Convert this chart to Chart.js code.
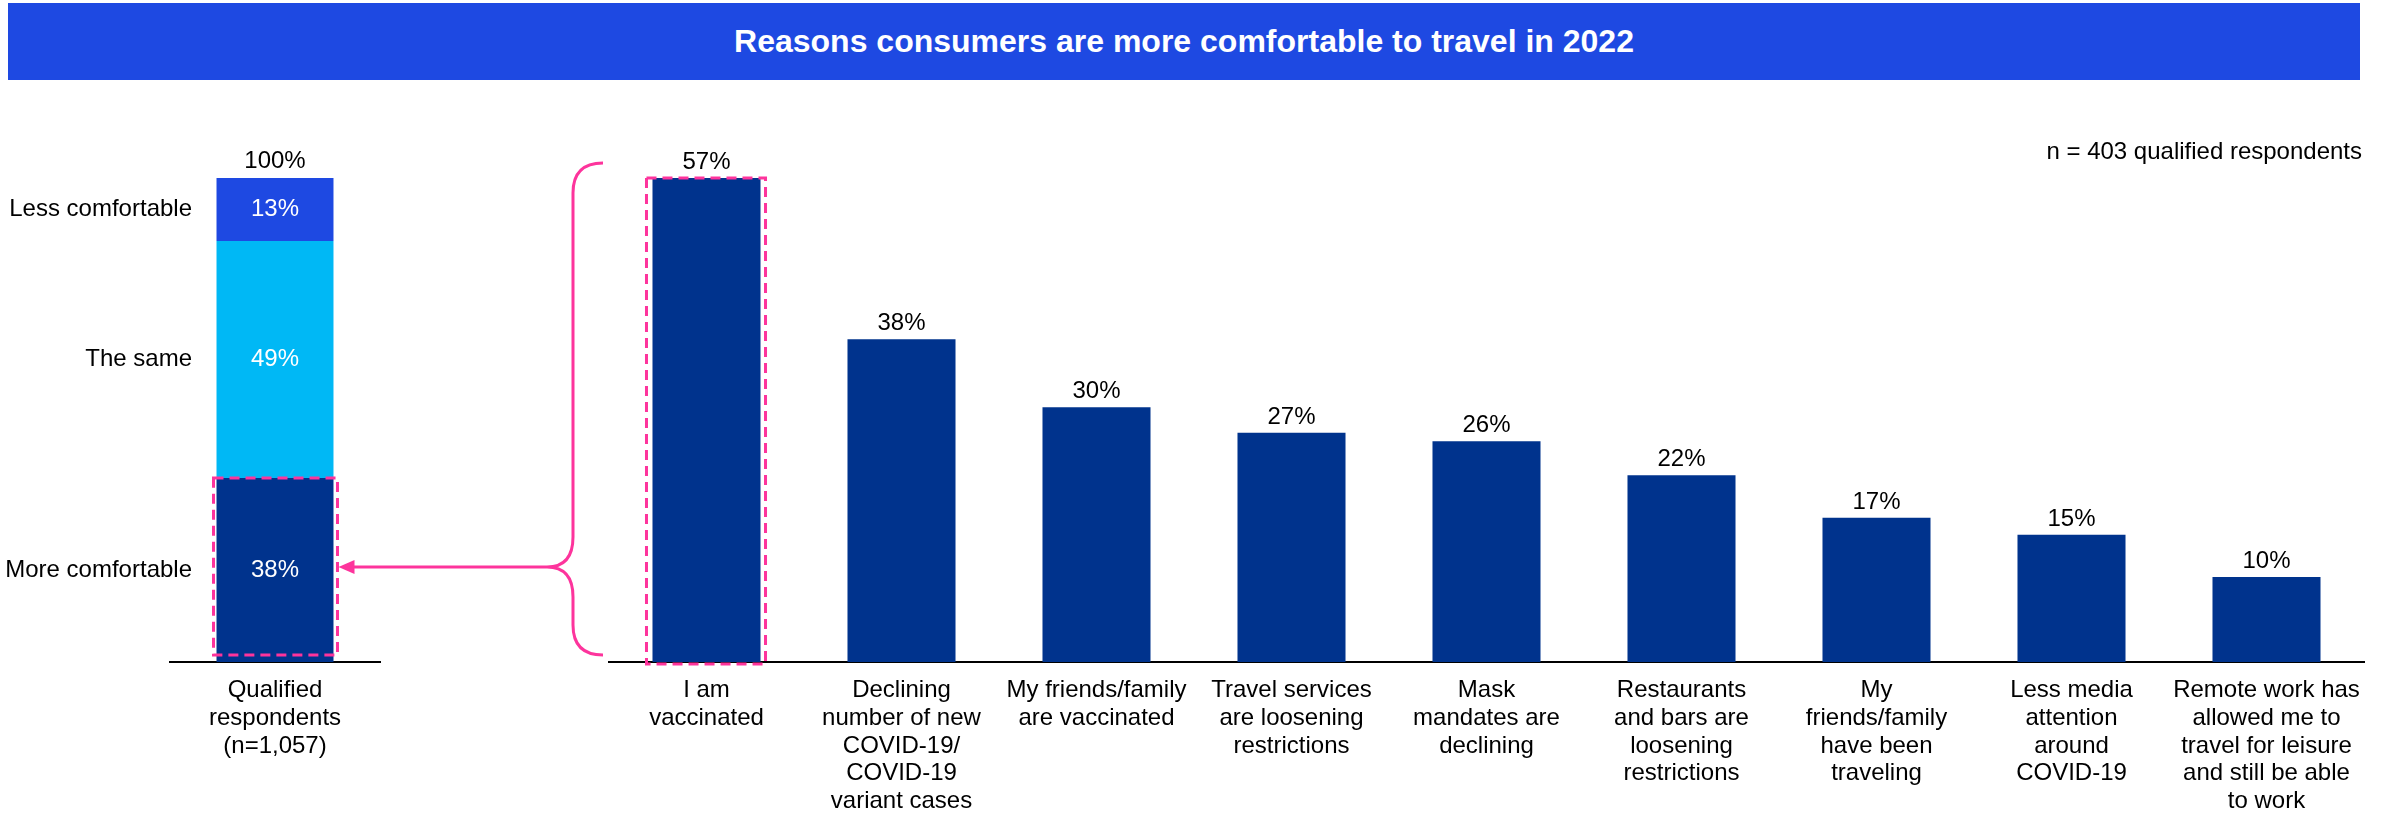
<!DOCTYPE html>
<html>
<head>
<meta charset="utf-8">
<script src="https://cdn.jsdelivr.net/npm/chart.js@4.4.0/dist/chart.umd.min.js"></script>
<style>
    html, body { margin: 0; padding: 0; background: #fff; }
    #page { position: relative; width: 2385px; height: 813px; overflow: hidden; }
    #titleBar {
        position: absolute; left: 8px; top: 3px; width: 2352px; height: 77px;
        background: #1E49E2; color: #fff; z-index: 5;
        font: bold 32px "Liberation Sans", Arial, sans-serif;
        display: flex; align-items: center; justify-content: center;
    }
    canvas { position: absolute; left: 0; top: 0; }
</style>
</head>
<body>
<div id="page">
    <div id="titleBar">Reasons consumers are more comfortable to travel in 2022</div>
    <canvas id="shareChart" width="2385" height="813"></canvas>
    <canvas id="reasonChart" width="2385" height="813"></canvas>
</div>
<script>
// left stacked bar: how comfortable vs. before
const shareCategory = [['Qualified', 'respondents', '(n=1,057)']];
const shareLabels = ['More comfortable', 'The same', 'Less comfortable'];
const shareValues = [38, 49, 13];
const shareTotal = '100%';

// right bar chart: reasons (among "more comfortable")
const reasonLabels = [
    ['I am', 'vaccinated'],
    ['Declining', 'number of new', 'COVID-19/', 'COVID-19', 'variant cases'],
    ['My friends/family', 'are vaccinated'],
    ['Travel services', 'are loosening', 'restrictions'],
    ['Mask', 'mandates are', 'declining'],
    ['Restaurants', 'and bars are', 'loosening', 'restrictions'],
    ['My', 'friends/family', 'have been', 'traveling'],
    ['Less media', 'attention', 'around', 'COVID-19'],
    ['Remote work has', 'allowed me to', 'travel for leisure', 'and still be able', 'to work']
];
const reasonValues = [57, 38, 30, 27, 26, 22, 17, 15, 10];
const sampleNote = 'n = 403 qualified respondents';

const NAVY = '#00338D';
const LIGHT = '#00B8F5';
const COBALT = '#1E49E2';
const PINK = '#FD349C';
const FONT = '"Liberation Sans", Arial, sans-serif';

Chart.defaults.font.family = FONT;
Chart.defaults.color = '#000';

// x axis shared settings: fixed height so both plot bottoms sit on the same line
function xAxis() {
    return {
        grid: { display: false, drawTicks: false },
        border: { display: true, color: '#000', width: 2 },
        ticks: { font: { size: 24, lineHeight: 1.15 }, color: '#000', padding: 15, maxRotation: 0, autoSkip: false },
        afterFit: function (scale) { scale.height = 151; }
    };
}

// labels for the stacked bar
const shareLabelPlugin = {
    id: 'shareLabels',
    afterDatasetsDraw(chart) {
        const ctx = chart.ctx;
        ctx.save();
        ctx.font = '24px ' + FONT;
        ctx.textBaseline = 'middle';
        let top = null;
        chart.data.datasets.forEach((ds, i) => {
            const el = chart.getDatasetMeta(i).data[0];
            const mid = (el.y + el.base) / 2;
            ctx.fillStyle = '#fff';
            ctx.textAlign = 'center';
            ctx.fillText(ds.data[0] + '%', el.x, mid);
            ctx.fillStyle = '#000';
            ctx.textAlign = 'right';
            ctx.fillText(ds.label, 192, mid);
            top = el;
        });
        ctx.textAlign = 'center';
        ctx.textBaseline = 'alphabetic';
        ctx.fillStyle = '#000';
        ctx.fillText(shareTotal, top.x, top.y - 10);
        ctx.restore();
    }
};

const shareChart = new Chart(document.getElementById('shareChart').getContext('2d'), {
    type: 'bar',
    data: {
        labels: shareCategory,
        datasets: shareLabels.map((label, i) => ({
            label: label,
            data: [shareValues[i]],
            backgroundColor: [NAVY, LIGHT, COBALT][i],
            borderWidth: 0,
            categoryPercentage: 1,
            barPercentage: 0.557
        }))
    },
    options: {
        responsive: false,
        animation: false,
        devicePixelRatio: 1,
        events: [],
        layout: { padding: { left: 170, right: 2005, top: 178, bottom: 0 } },
        plugins: { legend: { display: false }, tooltip: { enabled: false } },
        scales: {
            x: Object.assign(xAxis(), { stacked: true }),
            y: { stacked: true, display: false, min: 0, max: 100 }
        }
    },
    plugins: [shareLabelPlugin]
});

// value labels, note, dashed boxes, brace and arrow
const reasonPlugin = {
    id: 'reasonExtras',
    afterDatasetsDraw(chart) {
        const ctx = chart.ctx;
        const bars = chart.getDatasetMeta(0).data;
        ctx.save();
        ctx.font = '24px ' + FONT;
        ctx.fillStyle = '#000';
        ctx.textAlign = 'center';
        ctx.textBaseline = 'alphabetic';
        bars.forEach((el, i) => {
            ctx.fillText(reasonValues[i] + '%', el.x, el.y - 9);
        });
        ctx.textAlign = 'right';
        ctx.fillText(sampleNote, chart.chartArea.right - 2, 159);

        ctx.strokeStyle = PINK;
        ctx.lineWidth = 3;

        // dashed box around "I am vaccinated"
        const b = bars[0];
        ctx.setLineDash([10, 6]);
        ctx.strokeRect(b.x - b.width / 2 - 6, b.y, b.width + 11, b.base - b.y + 2);

        // dashed box around the "More comfortable" segment
        const seg = shareChart.getDatasetMeta(0).data[0];
        ctx.strokeRect(seg.x - seg.width / 2 - 3, seg.y, seg.width + 7, seg.base - seg.y - 7);
        ctx.setLineDash([]);

        // curly brace
        const bx = chart.chartArea.left - 36;
        const top = b.y - 15;
        const bottom = b.base - 7;
        const mid = (seg.y + seg.base) / 2 - 3;
        const r = 30;
        ctx.beginPath();
        ctx.moveTo(bx + r, top);
        ctx.quadraticCurveTo(bx, top, bx, top + r);
        ctx.lineTo(bx, mid - r);
        ctx.quadraticCurveTo(bx, mid, bx - 26, mid);
        ctx.quadraticCurveTo(bx, mid, bx, mid + r);
        ctx.lineTo(bx, bottom - r);
        ctx.quadraticCurveTo(bx, bottom, bx + r, bottom);
        ctx.stroke();

        // arrow to the segment
        const tipX = seg.x + seg.width / 2 + 5;
        ctx.beginPath();
        ctx.moveTo(bx - 26, mid);
        ctx.lineTo(tipX + 14, mid);
        ctx.stroke();
        ctx.fillStyle = PINK;
        ctx.beginPath();
        ctx.moveTo(tipX, mid);
        ctx.lineTo(tipX + 16, mid - 7);
        ctx.lineTo(tipX + 16, mid + 7);
        ctx.closePath();
        ctx.fill();
        ctx.restore();
    }
};

const reasonChart = new Chart(document.getElementById('reasonChart').getContext('2d'), {
    type: 'bar',
    data: {
        labels: reasonLabels,
        datasets: [{
            label: 'Reasons',
            data: reasonValues,
            backgroundColor: NAVY,
            borderWidth: 0,
            categoryPercentage: 1,
            barPercentage: 0.554
        }]
    },
    options: {
        responsive: false,
        animation: false,
        devicePixelRatio: 1,
        events: [],
        layout: { padding: { left: 609, right: 21, top: 178, bottom: 0 } },
        plugins: { legend: { display: false }, tooltip: { enabled: false } },
        scales: {
            x: xAxis(),
            y: { display: false, min: 0, max: 57 }
        }
    },
    plugins: [reasonPlugin]
});
</script>
</body>
</html>
